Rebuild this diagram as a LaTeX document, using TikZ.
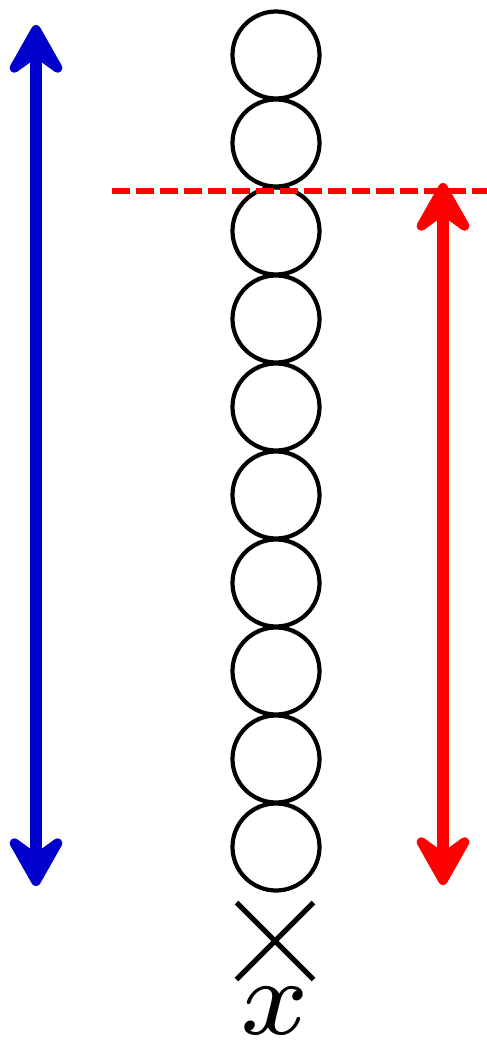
\documentclass[tikz,border=0pt]{standalone}
\usetikzlibrary{arrows.meta,shapes.misc}
\definecolor{myblue}{RGB}{0,0,204}
\definecolor{myred}{RGB}{255,0,0}
\begin{document}
\begin{tikzpicture}[x=1pt,y=-1pt,
  ball/.style={circle,draw=black,line width=4.2pt,minimum size=87pt,inner sep=0pt,outer sep=0pt},
  dbl/.style={line width=12pt,{Stealth[length=64pt,width=72pt,inset=26pt,round]}-{Stealth[length=64pt,width=72pt,inset=26pt,round]}},
  guide/.style={draw=myred,line width=6pt,dash pattern=on 18pt off 6pt}]
\useasboundingbox (0,0) rectangle (487,1044);
\foreach \i in {1,...,10}{
  \node[ball] (c\i) at (276,{55+88*(\i-1)}) {};
}
\node[cross out,draw=black,line width=5pt,minimum size=72pt,inner sep=0pt] (cr) at (275,941) {};
\node[inner sep=0pt,scale=15.6] (lbl) at (275,1011) {$\scriptstyle x$};
\coordinate (dl) at (112,191);
\coordinate (dr) at (487,191);
\draw[guide] (dl) -- (dr);
\coordinate (bt) at (36,25);
\coordinate (bb) at (36,886);
\coordinate (rt) at (443,183);
\coordinate (rb) at (443,885);
\draw[dbl,draw=myblue,fill=myblue] (bt) -- (bb);
\draw[dbl,draw=myred,fill=myred] (rt) -- (rb);
\end{tikzpicture}
\end{document}
